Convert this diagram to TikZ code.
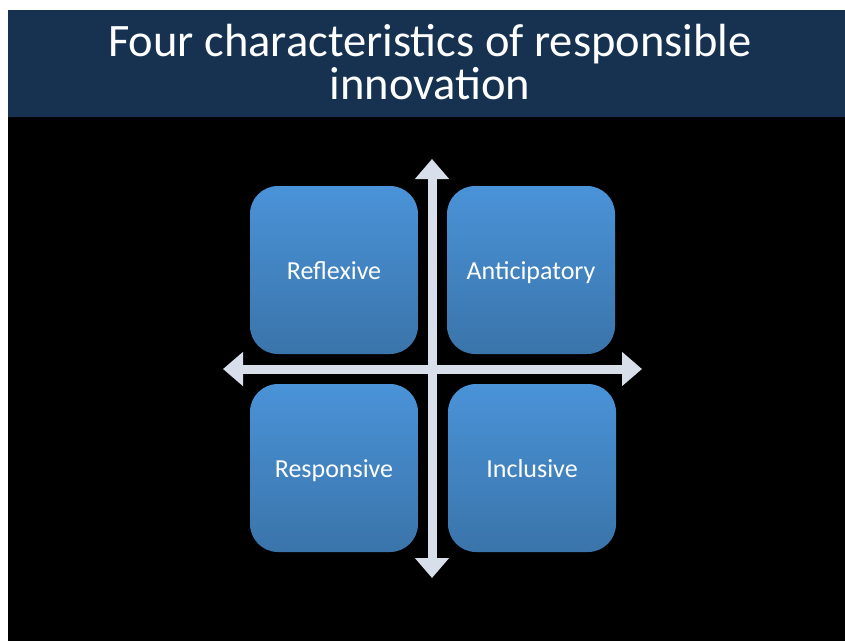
\documentclass[tikz,border=0pt]{standalone}
\usepackage{fontspec}
\setmainfont{Carlito}
\usepackage{xcolor}
\usetikzlibrary{arrows.meta}
\definecolor{TitleBand}{HTML}{163250}
\definecolor{BoxTop}{HTML}{4A93D8}
\definecolor{BoxBottom}{HTML}{3A74AA}
\definecolor{AxisGrey}{HTML}{D9DEEB}

\tikzset{
  quadbox/.style = {rounded corners = 28pt, minimum width = 168pt,
    minimum height = 168pt, top color = BoxTop, bottom color = BoxBottom,
    text = white, font = \fontsize{26}{30}\selectfont, inner sep = 0pt,
    text height = 18pt, text depth = 0pt},
  axis/.style = {line width = 9pt, draw = AxisGrey,
    -{Triangle[width = 33pt, length = 20pt]}}
}

\begin{document}
\begin{tikzpicture}[x = 1pt, y = -1pt]
  \useasboundingbox (0,0) rectangle (845,641);
  \fill[white] (0,0) rectangle (845,641);
  \fill[black] (8,10) rectangle (845,641);
  \fill[TitleBand] (8,10) rectangle (845,117);

  \node[text = white, align = center, font = \fontsize{46.5}{43}\selectfont]
    (title) at (430,62) {Four characteristics of responsible\\innovation};

  \node[quadbox] (reflexive) at (334,270) {Reflexive};
  \node[quadbox] (anticipatory) at (531,270) {Anticipatory};
  \node[quadbox] (responsive) at (334,468) {Responsive};
  \node[quadbox] (inclusive) at (532,468) {Inclusive};

  \coordinate (centre) at (432,369);
  \coordinate (top) at (432,159);
  \coordinate (bottom) at (432,578);
  \coordinate (left) at (223,369);
  \coordinate (right) at (642,369);

  \draw[axis] (centre) -- (top);
  \draw[axis] (centre) -- (bottom);
  \draw[axis] (centre) -- (left);
  \draw[axis] (centre) -- (right);
\end{tikzpicture}
\end{document}
